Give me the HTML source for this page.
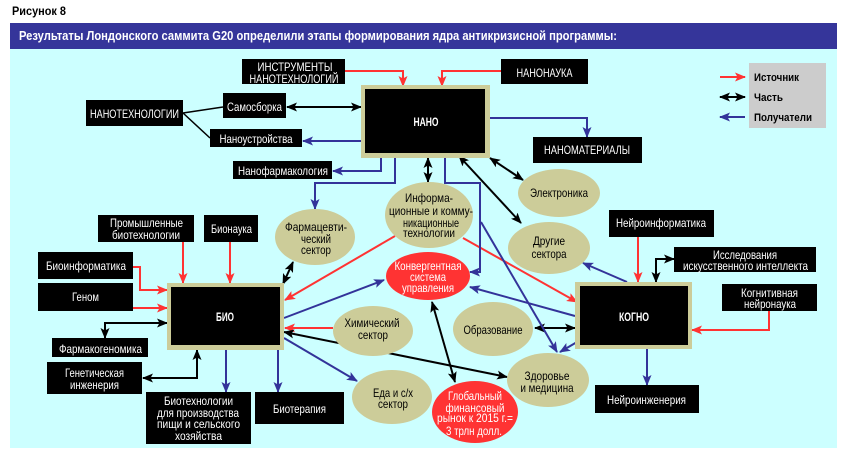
<!DOCTYPE html>
<html><head><meta charset="utf-8"><style>
html,body{margin:0;padding:0;background:#fff;}
svg{display:block;}
text{font-family:"Liberation Sans","DejaVu Sans",sans-serif;}
.w{fill:#fff;font-size:12px;text-anchor:middle;}
.k{fill:#000;font-size:12px;text-anchor:middle;}
.b{font-weight:bold;}
.r{stroke:#ff3333;stroke-width:2;fill:none;marker-end:url(#ar);}
.bl{stroke:#333399;stroke-width:2;fill:none;marker-end:url(#ab);}
.d{stroke:#000;stroke-width:2;fill:none;marker-end:url(#ak);marker-start:url(#aks);}
.tan{fill:#cccc99;}
</style></head><body>
<svg width="848" height="459" viewBox="0 0 848 459" xmlns="http://www.w3.org/2000/svg">
<defs>
<marker id="ar" markerUnits="userSpaceOnUse" markerWidth="11" markerHeight="9" refX="10" refY="4.5" orient="auto"><path d="M0,0 L11,4.5 L0,9 L2.5,4.5 z" fill="#ff3333"/></marker>
<marker id="ab" markerUnits="userSpaceOnUse" markerWidth="11" markerHeight="9" refX="10" refY="4.5" orient="auto"><path d="M0,0 L11,4.5 L0,9 L2.5,4.5 z" fill="#333399"/></marker>
<marker id="ak" markerUnits="userSpaceOnUse" markerWidth="11" markerHeight="9" refX="10" refY="4.5" orient="auto"><path d="M0,0 L11,4.5 L0,9 L2.5,4.5 z" fill="#000"/></marker>
<marker id="aks" markerUnits="userSpaceOnUse" markerWidth="11" markerHeight="9" refX="10" refY="4.5" orient="auto-start-reverse"><path d="M0,0 L11,4.5 L0,9 L2.5,4.5 z" fill="#000"/></marker>
</defs>

<rect x="0" y="0" width="848" height="459" fill="#fff"/>
<text x="12" y="15" class="b" font-size="12" textLength="54" lengthAdjust="spacingAndGlyphs" fill="#000">Рисунок 8</text>
<rect x="10" y="23" width="827" height="26" fill="#35359a"/>
<text x="19" y="40" class="b" font-size="12.5" fill="#fff" textLength="598" lengthAdjust="spacingAndGlyphs">Результаты Лондонского саммита G20 определили этапы формирования ядра антикризисной программы:</text>
<rect x="10" y="49" width="827" height="399" fill="#ccffff"/>

<!-- legend -->
<rect x="749" y="63" width="77" height="65" fill="#cccccc"/>
<path class="r" d="M720,77 H745"/>
<path class="d" d="M720,97 H745"/>
<path class="bl" d="M745,117 H720"/>
<text x="754" y="81" class="b" font-size="11" textLength="45" lengthAdjust="spacingAndGlyphs">Источник</text>
<text x="754" y="101" class="b" font-size="11" textLength="29" lengthAdjust="spacingAndGlyphs">Часть</text>
<text x="754" y="121" class="b" font-size="11" textLength="58" lengthAdjust="spacingAndGlyphs">Получатели</text>

<!-- connectors: black plain -->
<path d="M183,113 L223,107 M183,113 L210,138" stroke="#000" stroke-width="1.5" fill="none"/>

<!-- red -->
<path class="r" d="M345,71 H403 V86"/>
<path class="r" d="M501,71 H442 V86"/>
<path class="r" d="M183,242 V283"/>
<path class="r" d="M230,242 V283"/>
<path class="r" d="M133,267 H140 V290 H167"/>
<path class="r" d="M133,308 H167"/>
<path class="r" d="M395,236 L285,300"/>
<path class="r" d="M333,328 H285"/>
<path class="r" d="M463,238 L577,302"/>
<path class="r" d="M638,237 V282"/>
<path class="r" d="M769,311 V330 H692"/>

<!-- black double -->
<path class="d" d="M287,107 H361"/>
<path class="d" d="M428,158 V182"/>
<path class="d" d="M459,156 L521,223"/>
<path class="d" d="M490,158 L523,180"/>
<path class="d" d="M293,262 L283,284"/>
<path class="d" d="M105,338 V323 H167"/>
<path class="d" d="M143,378 H197 V350"/>
<path class="d" d="M284,332 L507,377"/>
<path class="d" d="M432,302 L455,382"/>
<path class="d" d="M535,328 H575"/>
<path class="d" d="M674,259 H656 V282"/>

<!-- blue -->
<path class="bl" d="M361,141 H303"/>
<path class="bl" d="M490,118 H587 V137"/>
<path class="bl" d="M381,158 V171 H333"/>
<path class="bl" d="M395,158 V183 H315 V209"/>
<path class="bl" d="M445,158 V183 H480 V272 H470"/>
<path class="bl" d="M481,222 L557,352"/>
<path class="bl" d="M575,316 L470,287"/>
<path class="bl" d="M577,342 L560,352"/>
<path class="bl" d="M627,282 L583,263"/>
<path class="bl" d="M647,349 V385"/>
<path class="bl" d="M284,318 L384,280"/>
<path class="bl" d="M284,338 L357,381"/>
<path class="bl" d="M226,350 V392"/>
<path class="bl" d="M278,350 V392"/>

<!-- ellipses -->
<ellipse class="tan" cx="315" cy="237" rx="40" ry="28"/>
<text class="k" x="316" y="231" textLength="62" lengthAdjust="spacingAndGlyphs">Фармацевти-</text>
<text class="k" x="316" y="243" textLength="30" lengthAdjust="spacingAndGlyphs">ческий</text>
<text class="k" x="316" y="254" textLength="30" lengthAdjust="spacingAndGlyphs">сектор</text>

<ellipse class="tan" cx="429" cy="215" rx="44" ry="33"/>
<text class="k" x="429" y="202" textLength="48" lengthAdjust="spacingAndGlyphs">Информа-</text>
<text class="k" x="431" y="215" textLength="84" lengthAdjust="spacingAndGlyphs">ционные и комму-</text>
<text class="k" x="431" y="227" textLength="56" lengthAdjust="spacingAndGlyphs">никационные</text>
<text class="k" x="429" y="237" textLength="52" lengthAdjust="spacingAndGlyphs">технологии</text>

<ellipse class="tan" cx="559" cy="193" rx="41" ry="24"/>
<text class="k" x="559" y="197" textLength="58" lengthAdjust="spacingAndGlyphs">Электроника</text>

<ellipse class="tan" cx="549" cy="248" rx="41" ry="26"/>
<text class="k" x="549" y="245" textLength="32" lengthAdjust="spacingAndGlyphs">Другие</text>
<text class="k" x="549" y="258" textLength="35" lengthAdjust="spacingAndGlyphs">сектора</text>

<ellipse cx="428" cy="276" rx="42" ry="24" fill="#ff3333"/>
<text class="w" x="428" y="270" textLength="67" lengthAdjust="spacingAndGlyphs">Конвергентная</text>
<text class="w" x="428" y="281" textLength="36" lengthAdjust="spacingAndGlyphs">система</text>
<text class="w" x="428" y="292" textLength="52" lengthAdjust="spacingAndGlyphs">управления</text>

<ellipse class="tan" cx="373" cy="331" rx="40" ry="25"/>
<text class="k" x="372" y="327" textLength="55" lengthAdjust="spacingAndGlyphs">Химический</text>
<text class="k" x="373" y="339" textLength="30" lengthAdjust="spacingAndGlyphs">сектор</text>

<ellipse class="tan" cx="392" cy="397" rx="40" ry="27"/>
<text class="k" x="393" y="397" textLength="40" lengthAdjust="spacingAndGlyphs">Еда и с/х</text>
<text class="k" x="393" y="408" textLength="30" lengthAdjust="spacingAndGlyphs">сектор</text>

<ellipse class="tan" cx="493" cy="329" rx="40" ry="27"/>
<text class="k" x="493" y="334" textLength="59" lengthAdjust="spacingAndGlyphs">Образование</text>

<ellipse class="tan" cx="548" cy="380" rx="41" ry="27"/>
<text class="k" x="547" y="380" textLength="45" lengthAdjust="spacingAndGlyphs">Здоровье</text>
<text class="k" x="547" y="392" textLength="53" lengthAdjust="spacingAndGlyphs">и медицина</text>

<ellipse cx="475" cy="412" rx="43" ry="31" fill="#ff3333"/>
<text class="w" x="475" y="400" textLength="54" lengthAdjust="spacingAndGlyphs">Глобальный</text>
<text class="w" x="475" y="412" textLength="59" lengthAdjust="spacingAndGlyphs">финансовый</text>
<text class="w" x="475" y="422" textLength="76" lengthAdjust="spacingAndGlyphs">рынок к 2015 г.=</text>
<text class="w" x="474" y="435" textLength="56" lengthAdjust="spacingAndGlyphs">3 трлн долл.</text>

<!-- frames -->
<rect class="tan" x="361" y="85" width="129" height="73"/>
<rect x="365" y="89" width="120" height="64" fill="#000"/>
<text class="w b" x="426" y="126" font-size="11" textLength="25" lengthAdjust="spacingAndGlyphs">НАНО</text>

<rect class="tan" x="167" y="283" width="117" height="67"/>
<rect x="171" y="287" width="109" height="58" fill="#000"/>
<text class="w b" x="225" y="321" font-size="11" textLength="18" lengthAdjust="spacingAndGlyphs">БИО</text>

<rect class="tan" x="575" y="282" width="117" height="67"/>
<rect x="580" y="286" width="108" height="59" fill="#000"/>
<text class="w b" x="634" y="321" font-size="11" textLength="30" lengthAdjust="spacingAndGlyphs">КОГНО</text>

<!-- black label boxes -->
<rect x="242" y="59" width="103" height="25" fill="#000"/>
<text class="w" x="295" y="71" textLength="75" lengthAdjust="spacingAndGlyphs">ИНСТРУМЕНТЫ</text>
<text class="w" x="294" y="83" textLength="89" lengthAdjust="spacingAndGlyphs">НАНОТЕХНОЛОГИЙ</text>

<rect x="86" y="100" width="97" height="26" fill="#000"/>
<text class="w" x="134.5" y="118" textLength="89" lengthAdjust="spacingAndGlyphs">НАНОТЕХНОЛОГИИ</text>

<rect x="223" y="93" width="63" height="25" fill="#000"/>
<text class="w" x="254.5" y="111" textLength="55" lengthAdjust="spacingAndGlyphs">Самосборка</text>

<rect x="210" y="129" width="92" height="18" fill="#000"/>
<text class="w" x="256" y="143" textLength="73" lengthAdjust="spacingAndGlyphs">Наноустройства</text>

<rect x="501" y="59" width="87" height="25" fill="#000"/>
<text class="w" x="544.5" y="77" textLength="56" lengthAdjust="spacingAndGlyphs">НАНОНАУКА</text>

<rect x="533" y="137" width="109" height="26" fill="#000"/>
<text class="w" x="587" y="154" textLength="86" lengthAdjust="spacingAndGlyphs">НАНОМАТЕРИАЛЫ</text>

<rect x="233" y="161" width="99" height="18" fill="#000"/>
<text class="w" x="283" y="175" textLength="90" lengthAdjust="spacingAndGlyphs">Нанофармакология</text>

<rect x="98" y="215" width="96" height="27" fill="#000"/>
<text class="w" x="146.5" y="227" textLength="73" lengthAdjust="spacingAndGlyphs">Промышленные</text>
<text class="w" x="146" y="239" textLength="68" lengthAdjust="spacingAndGlyphs">биотехнологии</text>

<rect x="204" y="215" width="54" height="27" fill="#000"/>
<text class="w" x="231.5" y="233" textLength="41" lengthAdjust="spacingAndGlyphs">Бионаука</text>

<rect x="38" y="252" width="95" height="27" fill="#000"/>
<text class="w" x="86" y="270" textLength="80" lengthAdjust="spacingAndGlyphs">Биоинформатика</text>

<rect x="38" y="283" width="95" height="28" fill="#000"/>
<text class="w" x="85.5" y="301" textLength="27" lengthAdjust="spacingAndGlyphs">Геном</text>

<rect x="52" y="338" width="96" height="19" fill="#000"/>
<text class="w" x="100.5" y="353" textLength="83" lengthAdjust="spacingAndGlyphs">Фармакогеномика</text>

<rect x="47" y="362" width="95" height="32" fill="#000"/>
<text class="w" x="94.5" y="377" textLength="59" lengthAdjust="spacingAndGlyphs">Генетическая</text>
<text class="w" x="94.5" y="389" textLength="49" lengthAdjust="spacingAndGlyphs">инженерия</text>

<rect x="146" y="392" width="105" height="52" fill="#000"/>
<text class="w" x="198.5" y="405" textLength="69" lengthAdjust="spacingAndGlyphs">Биотехнологии</text>
<text class="w" x="198" y="417" textLength="82" lengthAdjust="spacingAndGlyphs">для производства</text>
<text class="w" x="198.5" y="428" textLength="83" lengthAdjust="spacingAndGlyphs">пищи и сельского</text>
<text class="w" x="198.5" y="440" textLength="47" lengthAdjust="spacingAndGlyphs">хозяйства</text>

<rect x="255" y="392" width="89" height="32" fill="#000"/>
<text class="w" x="299.5" y="413" textLength="53" lengthAdjust="spacingAndGlyphs">Биотерапия</text>

<rect x="609" y="210" width="105" height="27" fill="#000"/>
<text class="w" x="661" y="227" textLength="90" lengthAdjust="spacingAndGlyphs">Нейроинформатика</text>

<rect x="674" y="247" width="142" height="25" fill="#000"/>
<text class="w" x="745" y="259" textLength="64" lengthAdjust="spacingAndGlyphs">Исследования</text>
<text class="w" x="745.5" y="270" textLength="125" lengthAdjust="spacingAndGlyphs">искусственного интеллекта</text>

<rect x="722" y="284" width="95" height="27" fill="#000"/>
<text class="w" x="769.5" y="297" textLength="57" lengthAdjust="spacingAndGlyphs">Когнитивная</text>
<text class="w" x="770" y="308" textLength="52" lengthAdjust="spacingAndGlyphs">нейронаука</text>

<rect x="595" y="385" width="104" height="28" fill="#000"/>
<text class="w" x="646.5" y="404" textLength="79" lengthAdjust="spacingAndGlyphs">Нейроинженерия</text>
</svg>
</body></html>
